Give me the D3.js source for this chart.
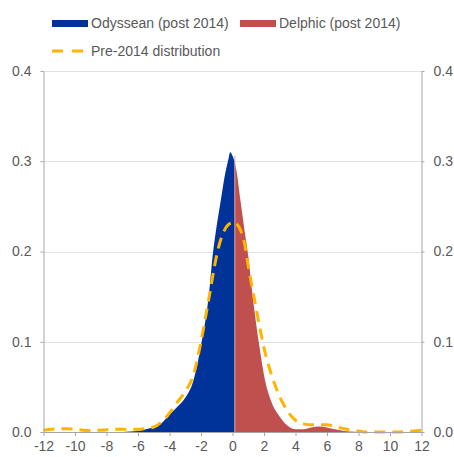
<!DOCTYPE html>
<html>
<head>
<meta charset="utf-8">
<script src="https://cdn.jsdelivr.net/npm/d3@7"></script>
<style>
  body { margin: 0; background: #fff; }
  svg { display: block; font-family: "Liberation Sans", Arial, sans-serif; }
  .tick text { fill: #595959; font-size: 14px; }
</style>
</head>
<body>
<svg id="chart" width="454" height="457"></svg>
<script>
// post-2014 density, split into Odyssean (left) and Delphic (right) at splitAt
const postX = [-12, -7, -6.5, -6, -5.5, -5, -4.5, -4, -3.5, -3, -2.5, -2, -1.5, -1.25, -1, -0.75, -0.5, -0.25, -0.15, 0, 0.25, 0.5, 0.75, 1, 1.25, 1.5, 1.75, 2, 2.5, 3, 3.5, 4, 4.5, 5, 5.5, 6, 6.5, 7, 7.5, 8, 12];
const postY = [0, 0, 0.0005, 0.001, 0.003, 0.0055, 0.010, 0.019, 0.028, 0.038, 0.056, 0.096, 0.152, 0.197, 0.229, 0.256, 0.283, 0.303, 0.310, 0.306, 0.290, 0.257, 0.225, 0.195, 0.155, 0.120, 0.090, 0.063, 0.032, 0.017, 0.007, 0.003, 0.003, 0.005, 0.006, 0.005, 0.003, 0.0015, 0.0005, 0, 0];
const splitAt = 0.15;

// pre-2014 distribution (dashed)
const preX = [-12, -11.5, -11, -10.5, -10, -9.5, -9, -8.5, -8, -7.5, -7, -6.5, -6, -5.5, -5, -4.5, -4, -3.5, -3, -2.5, -2, -1.5, -1, -0.75, -0.5, -0.25, 0, 0.1, 0.25, 0.5, 0.75, 1, 1.5, 2, 2.5, 3, 3.5, 4, 4.5, 5, 5.5, 6, 6.5, 7, 7.5, 8, 8.5, 9, 9.5, 10, 10.5, 11, 11.5, 12];
const preY = [0.002, 0.003, 0.0035, 0.0035, 0.003, 0.002, 0.0018, 0.002, 0.0025, 0.003, 0.003, 0.003, 0.003, 0.004, 0.0055, 0.011, 0.021, 0.033, 0.045, 0.062, 0.100, 0.148, 0.196, 0.213, 0.224, 0.230, 0.232, 0.233, 0.231, 0.224, 0.210, 0.184, 0.137, 0.093, 0.062, 0.039, 0.023, 0.013, 0.009, 0.008, 0.008, 0.008, 0.006, 0.004, 0.002, 0.001, 0, 0, 0, 0, 0, 0.0005, 0.001, 0.002];

const xTicks = [-12, -10, -8, -6, -4, -2, 0, 2, 4, 6, 8, 10, 12];
const yTicks = [0, 0.1, 0.2, 0.3, 0.4];

const seriesNames = ["Odyssean (post 2014)", "Delphic (post 2014)", "Pre-2014 distribution"];
const colors = ["#003399", "#c0504d", "#ffb400"];

const svg = d3.select("#chart");
const plotL = 43.5, plotR = 421.5, plotT = 71, plotB = 432;

const x = d3.scaleLinear().domain([-12, 12]).range([plotL, plotR]);
const y = d3.scaleLinear().domain([0, 0.4]).range([plotB, plotT]);

// grid
svg.append("g")
  .selectAll("line")
  .data(yTicks.filter(v => v > 0))
  .join("line")
  .attr("x1", plotL).attr("x2", plotR)
  .attr("y1", d => Math.round(y(d)) + 0.5).attr("y2", d => Math.round(y(d)) + 0.5)
  .attr("stroke", "#c4c4c4")
  .attr("stroke-dasharray", "1,1");

const post = postX.map((v, i) => ({x: v, y: postY[i]}));
const pre = preX.map((v, i) => ({x: v, y: preY[i]}));

const area = d3.area()
  .x(d => x(d.x))
  .y0(y(0))
  .y1(d => y(d.y))
  .curve(d3.curveMonotoneX);

const defs = svg.append("defs");
defs.append("clipPath").attr("id", "clipL")
  .append("rect").attr("x", plotL).attr("y", 0)
  .attr("width", x(splitAt) - plotL).attr("height", plotB);
defs.append("clipPath").attr("id", "clipR")
  .append("rect").attr("x", x(splitAt)).attr("y", 0)
  .attr("width", plotR - x(splitAt)).attr("height", plotB);

svg.append("path").datum(post)
  .attr("d", area).attr("fill", colors[0]).attr("clip-path", "url(#clipL)");
svg.append("path").datum(post)
  .attr("d", area).attr("fill", colors[1]).attr("clip-path", "url(#clipR)");

// thin light divider between the two halves
svg.append("line")
  .attr("x1", x(splitAt)).attr("x2", x(splitAt))
  .attr("y1", y(0)).attr("y2", y(0.306))
  .attr("stroke", "#d9a3a1").attr("stroke-width", 1);

const line = d3.line()
  .x(d => x(d.x))
  .y(d => y(d.y))
  .curve(d3.curveMonotoneX);

svg.append("path").datum(pre)
  .attr("d", line)
  .attr("fill", "none")
  .attr("stroke", colors[2])
  .attr("stroke-width", 3)
  .attr("stroke-dasharray", "11,7");

// axes
const axisColor = "#a6a6a6";

const gx = svg.append("g")
  .attr("transform", `translate(0,${plotB})`)
  .call(d3.axisBottom(x).tickValues(xTicks).tickFormat(d => String(d))
    .tickSize(4).tickSizeOuter(0).tickPadding(5));

const gl = svg.append("g")
  .attr("transform", `translate(${plotL},0)`)
  .call(d3.axisLeft(y).tickValues(yTicks).tickFormat(d => d.toFixed(1)).tickSize(3).tickSizeOuter(0).tickPadding(9));

const gr = svg.append("g")
  .attr("transform", `translate(${plotR},0)`)
  .call(d3.axisRight(y).tickValues(yTicks).tickFormat(d => d.toFixed(1)).tickSize(3).tickSizeOuter(0).tickPadding(9));

[gx, gl, gr].forEach(g => {
  g.select(".domain").attr("stroke", axisColor);
  g.selectAll(".tick line").attr("stroke", axisColor);
  g.selectAll(".tick text").attr("font-family", null).attr("font-size", null);
});

// legend
const lg = svg.append("g").attr("font-size", 14).attr("fill", "#595959");

lg.append("rect").attr("x", 52).attr("y", 20).attr("width", 36).attr("height", 7).attr("fill", colors[0]);
lg.append("text").attr("x", 91).attr("y", 23.5).attr("dy", "0.35em").text(seriesNames[0]);

lg.append("rect").attr("x", 240).attr("y", 20).attr("width", 36).attr("height", 7).attr("fill", colors[1]);
lg.append("text").attr("x", 279).attr("y", 23.5).attr("dy", "0.35em").text(seriesNames[1]);

lg.append("line").attr("x1", 52).attr("x2", 84).attr("y1", 51).attr("y2", 51)
  .attr("stroke", colors[2]).attr("stroke-width", 3).attr("stroke-dasharray", "11,9");
lg.append("text").attr("x", 91).attr("y", 51).attr("dy", "0.35em").text(seriesNames[2]);
</script>
</body>
</html>
